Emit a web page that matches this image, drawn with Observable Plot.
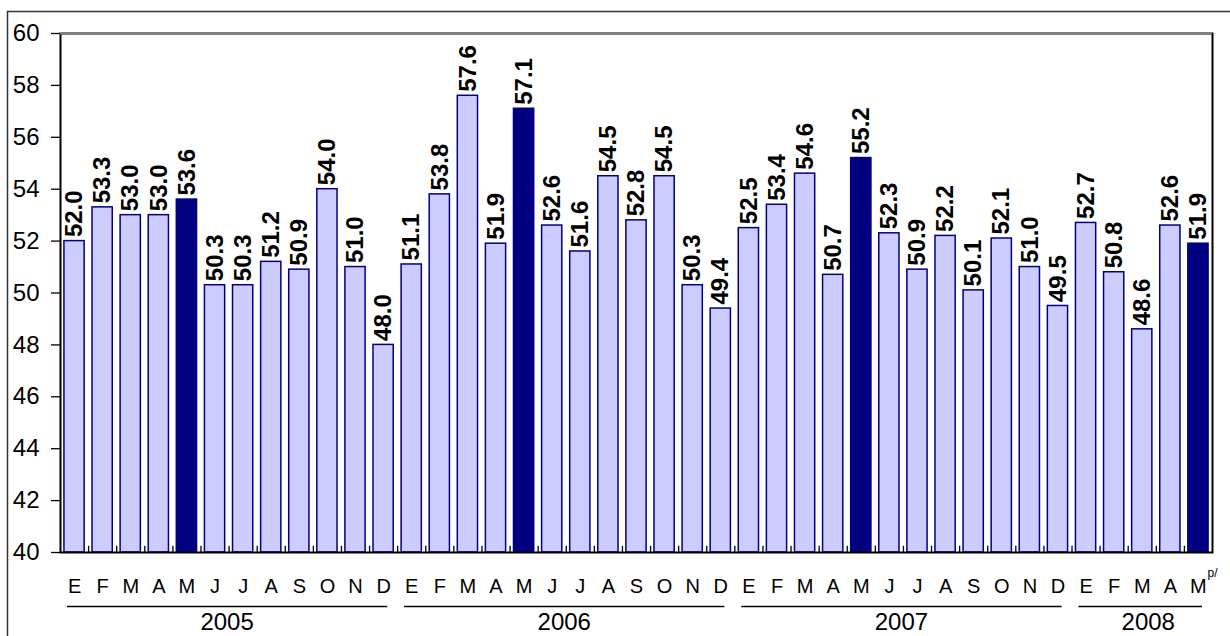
<!DOCTYPE html>
<html>
<head>
<meta charset="utf-8">
<script src="https://cdn.jsdelivr.net/npm/d3@7"></script>
<script src="https://cdn.jsdelivr.net/npm/@observablehq/plot@0.6"></script>
<style>
  html, body { margin: 0; padding: 0; background: #fff; }
  svg { display: block; }
</style>
</head>
<body>
<div id="chart"></div>
<script>
// ---- data ----
const years = ["2005", "2006", "2007", "2008"];
const monthLabels = ["E", "F", "M", "A", "M", "J", "J", "A", "S", "O", "N", "D"];
const values2005 = [52.0, 53.3, 53.0, 53.0, 53.6, 50.3, 50.3, 51.2, 50.9, 54.0, 51.0, 48.0];
const values2006 = [51.1, 53.8, 57.6, 51.9, 57.1, 52.6, 51.6, 54.5, 52.8, 54.5, 50.3, 49.4];
const values2007 = [52.5, 53.4, 54.6, 50.7, 55.2, 52.3, 50.9, 52.2, 50.1, 52.1, 51.0, 49.5];
const values2008 = [52.7, 50.8, 48.6, 52.6, 51.9];
const highlightMonthIndex = 4; // May
const yTicks = [40, 42, 44, 46, 48, 50, 52, 54, 56, 58, 60];
const preliminaryNote = "p/";

// ---- table ----
const seriesByYear = [values2005, values2006, values2007, values2008];
const data = [];
years.forEach((yr, yi) => {
  seriesByYear[yi].forEach((v, mi) => {
    data.push({key: yr + "-" + mi, year: yr, mi, month: monthLabels[mi], value: v, hi: mi === highlightMonthIndex});
  });
});
const keys = data.map(d => d.key);
const spans = years.map((yr, yi) => {
  const n = seriesByYear[yi].length;
  return {year: yr, first: yr + "-0", last: yr + "-" + (n - 1), n,
          mid: yr + "-" + Math.floor(n / 2)};
});
const fullYears = spans.filter(s => s.n % 2 === 0);
const partYears = spans.filter(s => s.n % 2 === 1);

const W = 1230, H = 636;
const mL = 60, mR = 18, mT = 33, mB = 84;
const step = (W - mL - mR) / keys.length;
const font = "Arial, 'Liberation Sans', Helvetica, sans-serif";

const plot = Plot.plot({
  width: W, height: H,
  marginLeft: mL, marginRight: mR, marginTop: mT, marginBottom: mB,
  style: {fontFamily: font, background: "white", color: "black", overflow: "visible"},
  x: {domain: keys, paddingInner: 0.28, paddingOuter: 0.14, round: false},
  y: {domain: [40, 60]},
  marks: [
    Plot.barY(data, {
      x: "key", y1: 40, y2: "value",
      fill: d => d.hi ? "#000080" : "#CCCCFF",
      stroke: "#000080", strokeWidth: 1.5
    }),
    Plot.text(data, {
      x: "key", y: "value", text: d => d.value.toFixed(1),
      rotate: -90, textAnchor: "start", dy: -4,
      fontSize: 24, fontWeight: "bold", fill: "black"
    }),
    Plot.frame({stroke: "black", strokeWidth: 2}),
    Plot.ruleY([60], {stroke: "#808080", strokeWidth: 2}),
    // small x ticks between categories
    Plot.ruleX(data.slice(1), {x: "key", y1: 40, y2: 40.24, dx: -step / 2, stroke: "black", strokeWidth: 1.3}),
    Plot.axisY({ticks: yTicks, tickSize: 9, tickPadding: 12, fontSize: 24, label: null, stroke: "black", strokeWidth: 1.3}),
    Plot.axisX({tickSize: 0, tickPadding: 26, fontSize: 20, label: null, tickFormat: k => monthLabels[+k.split("-")[1]]}),
    Plot.text([data[data.length - 1]], {x: "key", y: 40, text: () => preliminaryNote, dx: 9, dy: 21, textAnchor: "start", fontSize: 12, fill: "black"}),
    // year spans
    Plot.ruleY(spans, {y: 40, x1: "first", x2: "last", dy: 54, insetLeft: 3, insetRight: 6, stroke: "black", strokeWidth: 1.5}),
    Plot.text(fullYears, {x: "mid", y: 40, text: "year", dx: -step / 2 - 2, dy: 70, fontSize: 24, fill: "black"}),
    Plot.text(partYears, {x: "mid", y: 40, text: "year", dx: 6, dy: 70, fontSize: 24, fill: "black"})
  ]
});

// outer chart-area border
d3.select(plot).insert("rect", ":first-child")
  .attr("x", 7.5).attr("y", 11.5).attr("width", 1240).attr("height", 640)
  .attr("fill", "none").attr("stroke", "#333").attr("stroke-width", 1.5);

document.getElementById("chart").appendChild(plot);
</script>
</body>
</html>
